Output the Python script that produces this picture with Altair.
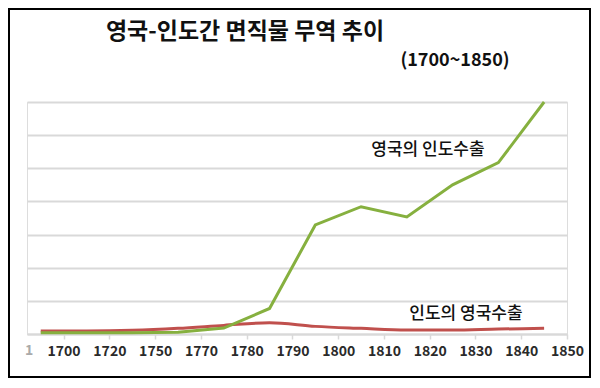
import altair as alt
import pandas as pd

# ---- data ----
period_index = list(range(12))
uk_to_india = [0.04, 0.04, 0.04, 0.05, 0.18, 0.77, 3.29, 3.84, 3.53, 4.50, 5.17, 7.00]
india_to_uk = [0.09, 0.09, 0.11, 0.17, 0.26, 0.34, 0.23, 0.17, 0.12, 0.12, 0.15, 0.17]
tick_labels = ["1700", "1720", "1750", "1770", "1780", "1790",
               "1800", "1810", "1820", "1830", "1840", "1850"]
series_names = ["영국의 인도수출", "인도의 영국수출"]
series_colors = ["#86b03f", "#c0504d"]
title_text = "영국-인도간 면직물 무역 추이"
subtitle_text = "(1700~1850)"

FONT = "Noto Sans CJK KR"
W, H = 540, 232
PAD = {"left": 19, "top": 94, "right": 24, "bottom": 44}

df = pd.DataFrame({
    "idx": period_index * 2,
    "value": uk_to_india + india_to_uk,
    "series": [series_names[0]] * 12 + [series_names[1]] * 12,
})

label_array = "[" + ",".join("'%s'" % t for t in tick_labels) + "]"

x_enc = alt.X(
    "idx:Q",
    scale=alt.Scale(domain=[-0.3, 11.5], nice=False, zero=False),
    axis=alt.Axis(
        values=[i + 0.5 for i in period_index],
        labelExpr=label_array + "[floor(datum.value)]",
        grid=False, title=None,
        domainColor="#d9d9d9", domainWidth=2,
        tickColor="#d9d9d9", tickSize=5, tickWidth=1.5,
        labelFont=FONT, labelFontSize=14, labelFontWeight="bold",
        labelColor="#2a2a2a", labelPadding=5, labelFlush=False,
        labelOverlap=False,
    ),
)
y_enc = alt.Y(
    "value:Q",
    scale=alt.Scale(domain=[0, 7], nice=False),
    axis=alt.Axis(values=list(range(8)), grid=True, labels=False, ticks=False,
                  domain=False, title=None, gridColor="#d9d9d9", gridWidth=2),
)
color_enc = alt.Color("series:N",
                      scale=alt.Scale(domain=series_names, range=series_colors),
                      legend=None)

base = alt.Chart(df)
red_line = base.transform_filter(alt.datum.series == series_names[1]).mark_line(
    strokeWidth=3, interpolate="monotone").encode(x=x_enc, y=y_enc, color=color_enc)
green_line = base.transform_filter(alt.datum.series == series_names[0]).mark_line(
    strokeWidth=3, interpolate="linear").encode(x=x_enc, y=y_enc, color=color_enc)

one = pd.DataFrame({"k": [0]})


def txt(text, x, y, size, weight="bold", color="#111111"):
    return alt.Chart(one).mark_text(
        text=text, font=FONT, fontSize=size, fontWeight=weight, color=color,
        align="center", baseline="middle",
    ).encode(x=alt.value(x), y=alt.value(y))


title_layer = txt(title_text, 218, -70, 23)
subtitle_layer = txt(subtitle_text, 428, -41, 18)
label_uk = txt(series_names[0], 401, 48, 17, weight=500)
label_in = txt(series_names[1], 439, 212, 17, weight=500)
stub = txt("1", 2, 249, 14, color="#aaaaaa")

border = alt.Chart(one).mark_rect(
    fillOpacity=0, stroke="black", strokeWidth=2,
).encode(
    x=alt.value(-PAD["left"] + 1), x2=alt.value(W + PAD["right"] - 1),
    y=alt.value(-PAD["top"] + 1), y2=alt.value(H + PAD["bottom"] - 1),
)

chart = alt.layer(
    red_line, green_line, title_layer, subtitle_layer, label_uk, label_in, stub, border
).properties(
    width=W, height=H,
    autosize=alt.AutoSizeParams(type="none"),
    padding=PAD,
).configure_view(stroke=None).configure(background="white")

chart.save("out.html", embed_options={"renderer": "svg", "actions": False})
